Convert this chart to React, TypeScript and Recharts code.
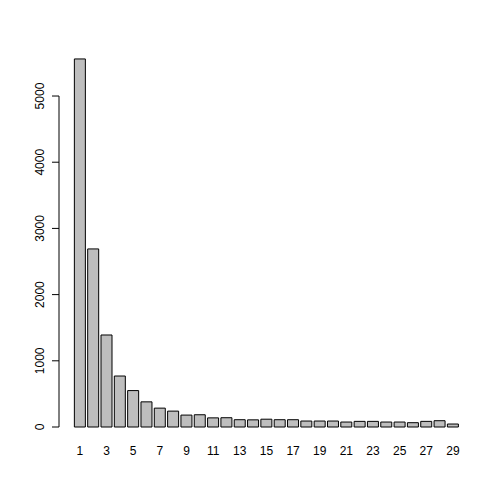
import { Bar, BarChart, ReferenceLine, XAxis, YAxis } from 'recharts';

const categories = [
  '1', '2', '3', '4', '5', '6', '7', '8', '9', '10',
  '11', '12', '13', '14', '15', '16', '17', '18', '19', '20',
  '21', '22', '23', '24', '25', '26', '27', '28', '29',
];

const counts = [
  5560, 2690, 1390, 770, 550, 380, 285, 240, 180, 185,
  138, 140, 110, 108, 118, 110, 110, 90, 90, 90,
  75, 85, 85, 75, 75, 65, 85, 95, 45,
];

const yTicks = [0, 1000, 2000, 3000, 4000, 5000];

const data = categories.map((name, i) => ({ name, value: counts[i] }));

const font = '"Liberation Sans", Arial, sans-serif';
const Y_AXIS_WIDTH = 59;

function YTick({ x, y, payload }: any) {
  return (
    <text
      x={x}
      y={y}
      transform={`rotate(-90, ${x}, ${y})`}
      textAnchor="middle"
      fontSize={12}
      fontFamily={font}
      fill="#000"
    >
      {payload.value}
    </text>
  );
}

export default function App() {
  return (
    <div style={{ position: 'absolute', left: 0, top: 0, background: '#fff' }}>
      <BarChart
        width={504}
        height={504}
        data={data}
        margin={{ top: 56.3, right: 30.2, bottom: 0, left: 0 }}
        barCategoryGap="8.33%"
      >
        <XAxis
          dataKey="name"
          height={77}
          interval={1}
          axisLine={false}
          tickLine={false}
          tickSize={0}
          tickMargin={19}
          padding={{ left: 14.25, right: 14.2 }}
          tick={{ fontSize: 12, fontFamily: font, fill: '#000' }}
        />
        <YAxis
          width={Y_AXIS_WIDTH}
          domain={[0, 5600]}
          ticks={yTicks}
          axisLine={false}
          tickLine={{ stroke: '#000' }}
          tickSize={7}
          tickMargin={8}
          tick={<YTick />}
        />
        <ReferenceLine
          segment={[
            { x: '1', y: yTicks[0] },
            { x: '1', y: yTicks[yTicks.length - 1] },
          ]}
          ifOverflow="visible"
          shape={(p: any) => (
            <line
              x1={Y_AXIS_WIDTH}
              y1={p.y1}
              x2={Y_AXIS_WIDTH}
              y2={p.y2}
              stroke="#000"
              strokeWidth={1}
            />
          )}
        />
        <Bar
          dataKey="value"
          fill="#bebebe"
          stroke="#000"
          strokeWidth={1}
          isAnimationActive={false}
        />
      </BarChart>
    </div>
  );
}
